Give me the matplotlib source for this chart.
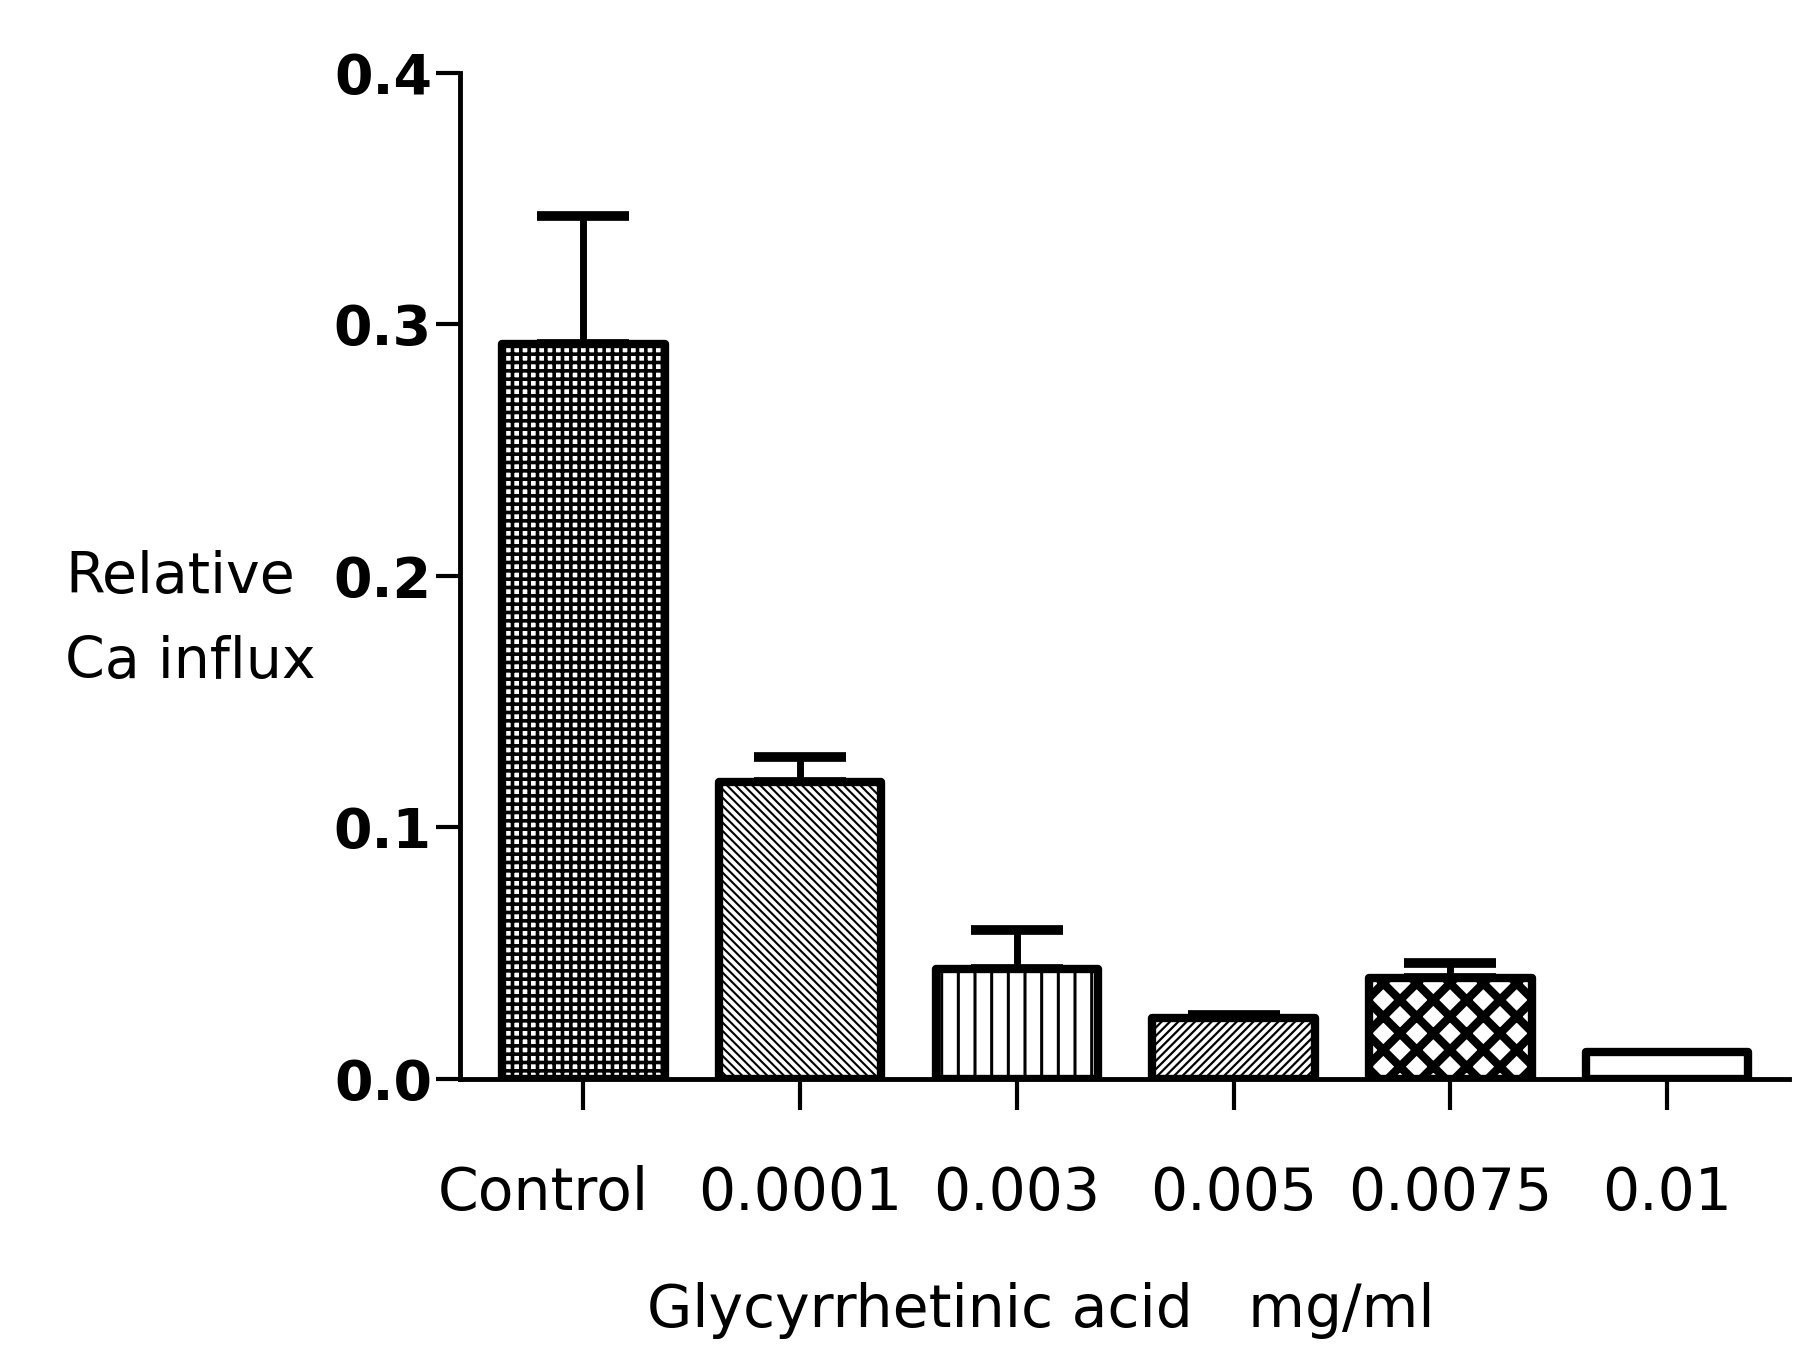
import numpy as np
import matplotlib.pyplot as plt
import matplotlib.transforms as mtransforms

categories = ["Control", "0.0001", "0.003", "0.005", "0.0075", "0.01"]
means = [0.292, 0.118, 0.0435, 0.024, 0.040, 0.0105]
errors = [0.051, 0.010, 0.0155, 0.0015, 0.006, 0.0]
hatches = ["++", "\\\\\\\\", "|", "////", "x", ""]
hatch_lw = [2.6, 1.5, 2.2, 1.6, 6.0, 1.0]

plt.rcParams['hatch.linewidth'] = 2.0

fig = plt.figure(figsize=(18.03, 13.5), dpi=100)
ax = fig.add_axes([0.255, 0.201, 0.737, 0.745])

x = np.arange(len(categories))
bars = ax.bar(x, means, width=0.75, color="white", edgecolor="black",
              linewidth=6, zorder=3)
for b, h, lw in zip(bars, hatches, hatch_lw):
    b.set_hatch(h)
    b.set_joinstyle("round")
    try:
        b.set_hatch_linewidth(lw)
    except AttributeError:
        pass

# only the upper half of the error bars is shown
err_x = [i for i, e in enumerate(errors) if e > 0]
ax.errorbar(err_x, [means[i] for i in err_x],
            yerr=[[0] * len(err_x), [errors[i] for i in err_x]],
            fmt="none", ecolor="black", elinewidth=5, capsize=33,
            capthick=7, zorder=2)

ax.set_xlim(-0.57, 5.56)
ax.set_ylim(0, 0.4)
ax.set_yticks([0.0, 0.1, 0.2, 0.3, 0.4])
ax.set_yticklabels(["0.0", "0.1", "0.2", "0.3", "0.4"],
                   fontsize=40, fontweight="bold", family="DejaVu Sans")
ax.set_xticks(x)
ax.set_xticklabels(categories, fontsize=42, family="DejaVu Sans")

for s in ["top", "right"]:
    ax.spines[s].set_visible(False)
ax.spines["left"].set_linewidth(3.5)
ax.spines["bottom"].set_linewidth(3.5)
ax.tick_params(axis="y", length=17, width=3, pad=3)
ax.tick_params(axis="x", length=22, width=3, pad=40)

# the "Control" label sits a bit left of its tick in the original
lbl = ax.xaxis.get_major_ticks()[0].label1
lbl.set_transform(lbl.get_transform() +
                  mtransforms.ScaledTranslation(-0.4, 0, fig.dpi_scale_trans))

fig.text(0.036, 0.541, "Relative\nCa influx", fontsize=41, family="DejaVu Sans",
         ha="left", va="center", linespacing=1.7)
fig.text(0.577, 0.029, "Glycyrrhetinic acid   mg/ml", fontsize=42,
         family="DejaVu Sans", ha="center", va="center")

fig.savefig("out.png", dpi=100)
